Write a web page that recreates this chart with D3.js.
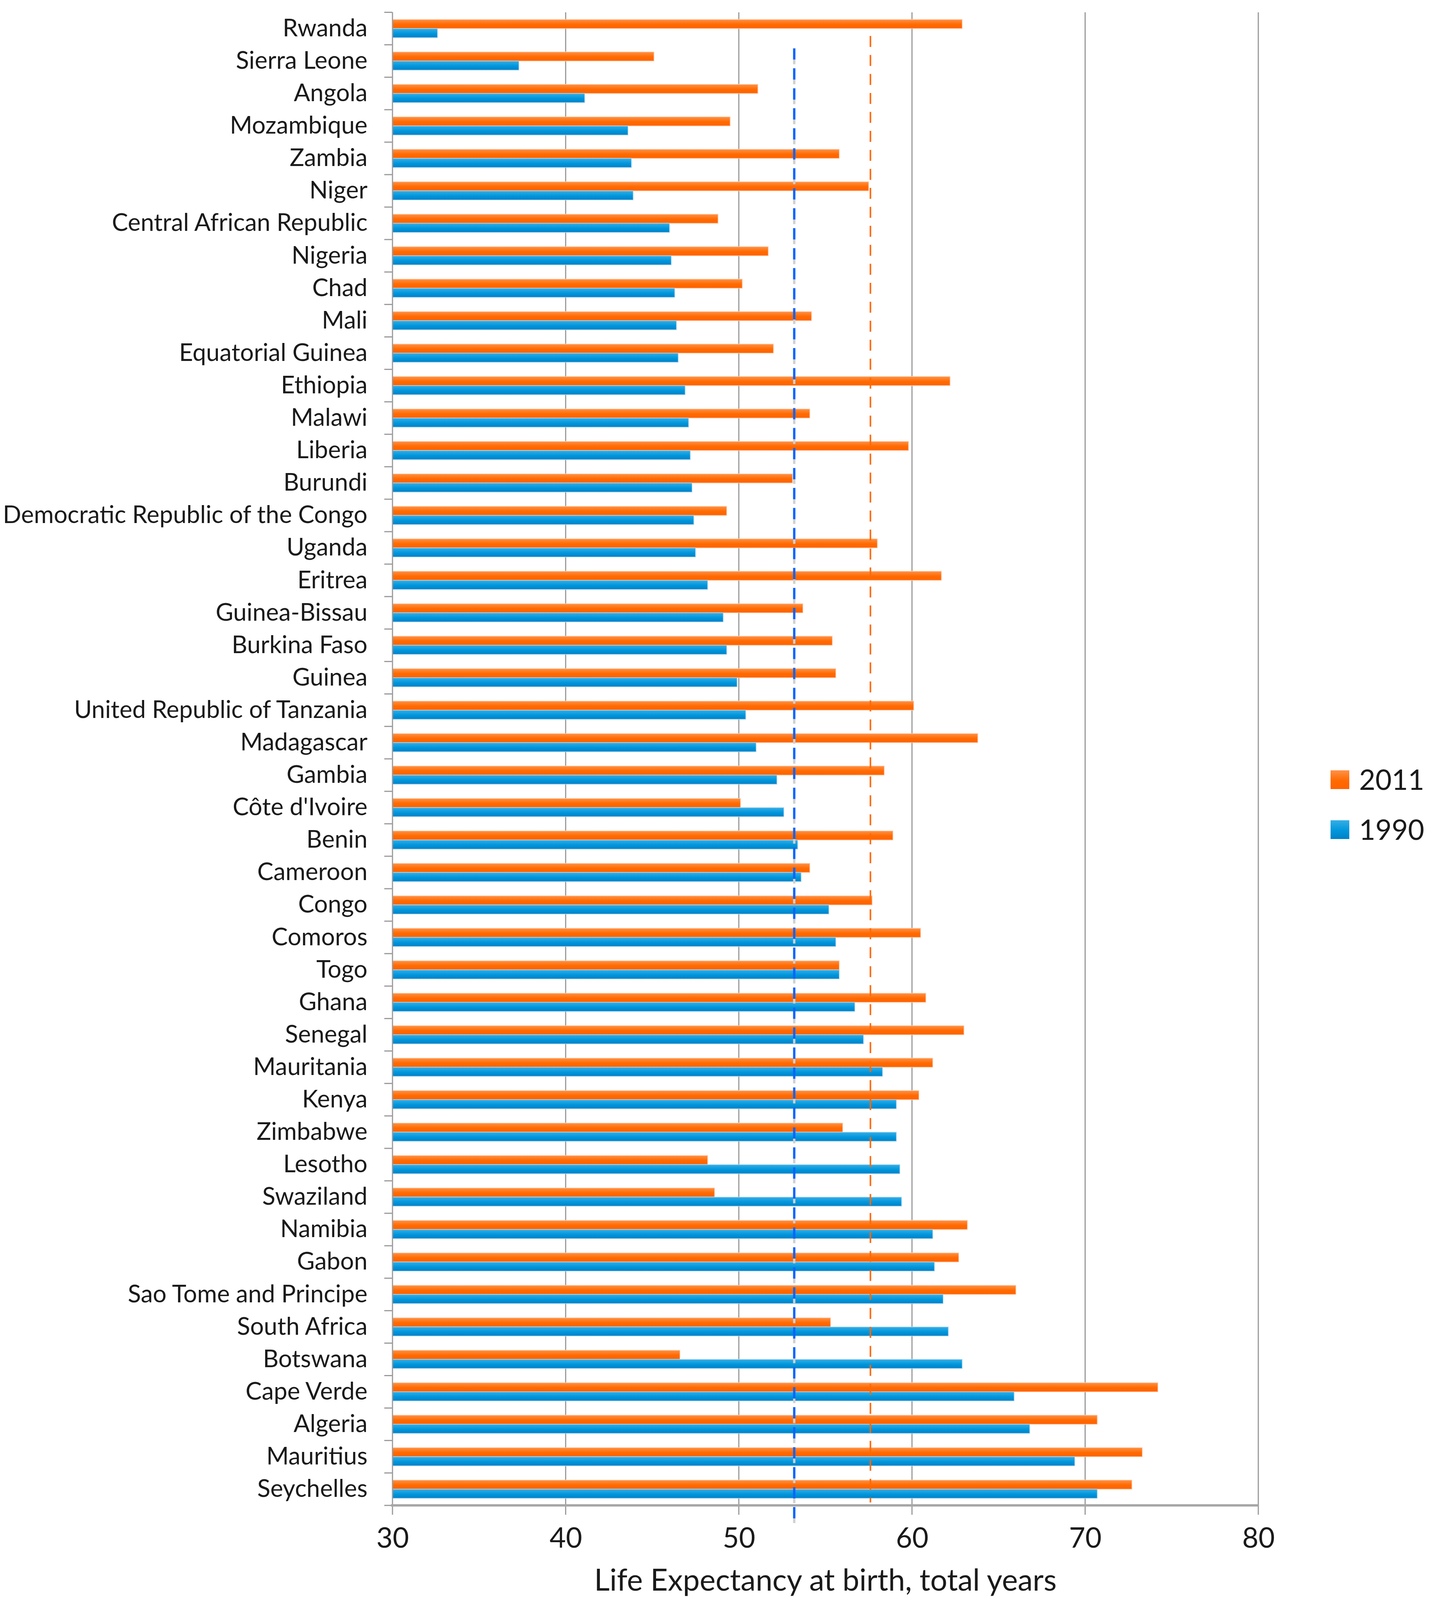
<!DOCTYPE html>
<html>
<head>
<meta charset="utf-8">
<script src="https://cdn.jsdelivr.net/npm/d3@7"></script>
<style>
  html, body { margin: 0; padding: 0; background: #fff; overflow: hidden; }
  svg { display: block; font-family: Lato, "Open Sans", sans-serif; }
</style>
</head>
<body>
<svg id="chart"></svg>
<script>
const countries = ["Rwanda", "Sierra Leone", "Angola", "Mozambique", "Zambia", "Niger",
  "Central African Republic", "Nigeria", "Chad", "Mali", "Equatorial Guinea", "Ethiopia",
  "Malawi", "Liberia", "Burundi", "Democratic Republic of the Congo", "Uganda", "Eritrea",
  "Guinea-Bissau", "Burkina Faso", "Guinea", "United Republic of Tanzania", "Madagascar",
  "Gambia", "Côte d'Ivoire", "Benin", "Cameroon", "Congo", "Comoros", "Togo", "Ghana",
  "Senegal", "Mauritania", "Kenya", "Zimbabwe", "Lesotho", "Swaziland", "Namibia", "Gabon",
  "Sao Tome and Principe", "South Africa", "Botswana", "Cape Verde", "Algeria", "Mauritius",
  "Seychelles"];

const values2011 = [62.9, 45.1, 51.1, 49.5, 55.8, 57.5, 48.8, 51.7, 50.2, 54.2, 52.0, 62.2,
  54.1, 59.8, 53.1, 49.3, 58.0, 61.7, 53.7, 55.4, 55.6, 60.1, 63.8, 58.4, 50.1, 58.9, 54.1,
  57.7, 60.5, 55.8, 60.8, 63.0, 61.2, 60.4, 56.0, 48.2, 48.6, 63.2, 62.7, 66.0, 55.3, 46.6,
  74.2, 70.7, 73.3, 72.7];

const values1990 = [32.6, 37.3, 41.1, 43.6, 43.8, 43.9, 46.0, 46.1, 46.3, 46.4, 46.5, 46.9,
  47.1, 47.2, 47.3, 47.4, 47.5, 48.2, 49.1, 49.3, 49.9, 50.4, 51.0, 52.2, 52.6, 53.4, 53.6,
  55.2, 55.6, 55.8, 56.7, 57.2, 58.3, 59.1, 59.1, 59.3, 59.4, 61.2, 61.3, 61.8, 62.1, 62.9,
  65.9, 66.8, 69.4, 70.7];

const seriesKeys = ["2011", "1990"];
const xTicks = [30, 40, 50, 60, 70, 80];
const mean1990 = 53.2;
const mean2011 = 57.6;
const xTitle = "Life Expectancy at birth, total years";

const W = 3677, H = 4804;
const plotLeft = 1005, plotRight = 3222, plotTop = 37, plotBottom = 4520;

// the window only shows part of the height, so vertical positions are squeezed to fit it
const viewH = window.innerHeight || H;
const sy = Math.min(1, viewH / H);
const Y = v => v * sy;

const svg = d3.select("#chart").attr("width", W).attr("height", Y(H));

const rows = countries.map((c, i) => ({ country: c, "2011": values2011[i], "1990": values1990[i] }));

const x = d3.scaleLinear().domain([30, 80]).range([plotLeft, plotRight]);
const y = d3.scaleBand().domain(countries).range([Y(plotTop), Y(plotBottom)]).padding(0);
const ySub = d3.scaleBand().domain(seriesKeys).range([0, y.bandwidth()]).paddingInner(0).paddingOuter(0.78);

// gradients for the bars
const defs = svg.append("defs");
const grads = { "2011": ["#ff9148", "#ff6a00", "#ff6200"], "1990": ["#35aee6", "#0096dc", "#0080c6"] };
seriesKeys.forEach(k => {
  const g = defs.append("linearGradient").attr("id", "g" + k)
    .attr("x1", 0).attr("y1", 0).attr("x2", 0).attr("y2", 1);
  g.append("stop").attr("offset", "0%").attr("stop-color", grads[k][0]);
  g.append("stop").attr("offset", "55%").attr("stop-color", grads[k][1]);
  g.append("stop").attr("offset", "100%").attr("stop-color", grads[k][2]);
});

// vertical gridlines (extend a bit under the axis)
svg.append("g").selectAll("line").data(xTicks.slice(1)).join("line")
  .attr("x1", d => x(d)).attr("x2", d => x(d))
  .attr("y1", Y(plotTop)).attr("y2", Y(plotBottom + 28))
  .attr("stroke", "#9a9a9a").attr("stroke-width", 3);
svg.append("line").attr("x1", x(30)).attr("x2", x(30)).attr("y1", Y(plotBottom)).attr("y2", Y(plotBottom + 28))
  .attr("stroke", "#9a9a9a").attr("stroke-width", 3);

// bars
const groups = svg.append("g").selectAll("g").data(rows).join("g")
  .attr("transform", d => `translate(0,${y(d.country)})`);
groups.selectAll("rect").data(d => seriesKeys.map(k => ({ key: k, value: d[k] }))).join("rect")
  .attr("x", x(30))
  .attr("y", d => ySub(d.key))
  .attr("width", d => x(d.value) - x(30))
  .attr("height", ySub.bandwidth())
  .attr("fill", d => `url(#g${d.key})`)
  .attr("stroke", d => d.key === "2011" ? "#ffd0b0" : "#b8dcf2")
  .attr("stroke-width", 2)
  .attr("stroke-opacity", 0.7);

// left axis line + boundary ticks
svg.append("line").attr("x1", plotLeft).attr("x2", plotLeft).attr("y1", Y(plotTop)).attr("y2", Y(plotBottom))
  .attr("stroke", "#9a9a9a").attr("stroke-width", 3);
const bounds = countries.map(c => y(c)).concat([Y(plotBottom)]);
svg.append("g").selectAll("line").data(bounds).join("line")
  .attr("x1", plotLeft - 21).attr("x2", plotLeft).attr("y1", d => d).attr("y2", d => d)
  .attr("stroke", "#9a9a9a").attr("stroke-width", 3);

// bottom axis line
svg.append("line").attr("x1", plotLeft - 4).attr("x2", plotRight).attr("y1", Y(plotBottom)).attr("y2", Y(plotBottom))
  .attr("stroke", "#a6a6a6").attr("stroke-width", 6);

// mean lines
const dash = arr => arr.map(v => Y(v)).join(",");
svg.append("line").attr("x1", x(mean2011)).attr("x2", x(mean2011)).attr("y1", Y(108)).attr("y2", Y(4511))
  .attr("stroke", "#ff6a00").attr("stroke-width", 4).attr("stroke-dasharray", dash([33, 24]));
svg.append("line").attr("x1", x(mean1990)).attr("x2", x(mean1990)).attr("y1", Y(145)).attr("y2", Y(4578))
  .attr("stroke", "#d0d0d0").attr("stroke-width", 6).attr("stroke-dasharray", dash([0, 34, 14, 12]));
svg.append("line").attr("x1", x(mean1990)).attr("x2", x(mean1990)).attr("y1", Y(145)).attr("y2", Y(4578))
  .attr("stroke", "#0a64ff").attr("stroke-width", 6).attr("stroke-dasharray", dash([34, 26]));

// category labels
const yAxis = svg.append("g").attr("transform", `translate(${plotLeft},0)`)
  .call(d3.axisLeft(y).tickSize(0).tickPadding(64));
yAxis.select(".domain").remove();
yAxis.selectAll("text").attr("font-size", 62).attr("fill", "#1a1a1a")
  .attr("font-family", "Lato, 'Open Sans', sans-serif");

// x tick labels
const xAxis = svg.append("g").attr("transform", `translate(0,${Y(4617)})`)
  .call(d3.axisBottom(x).tickValues(xTicks).tickSize(0).tickPadding(0));
xAxis.select(".domain").remove();
xAxis.selectAll("text").attr("font-size", 72).attr("fill", "#1a1a1a").attr("dy", "0.36em")
  .attr("font-family", "Lato, 'Open Sans', sans-serif");

// axis title
svg.append("text").attr("x", (plotLeft + plotRight) / 2).attr("y", Y(4743)).attr("dy", "0.36em")
  .attr("text-anchor", "middle").attr("font-size", 77).attr("fill", "#1a1a1a")
  .text(xTitle);

// legend
const legend = svg.append("g").selectAll("g").data(seriesKeys).join("g")
  .attr("transform", (d, i) => `translate(3407,${Y(2341 + i * 150)})`);
legend.append("rect").attr("y", -24).attr("width", 48).attr("height", 48).attr("fill", d => `url(#g${d})`);
legend.append("text").attr("x", 73).attr("dy", "0.36em")
  .attr("font-size", 72).attr("fill", "#1a1a1a").text(d => d);
</script>
</body>
</html>
